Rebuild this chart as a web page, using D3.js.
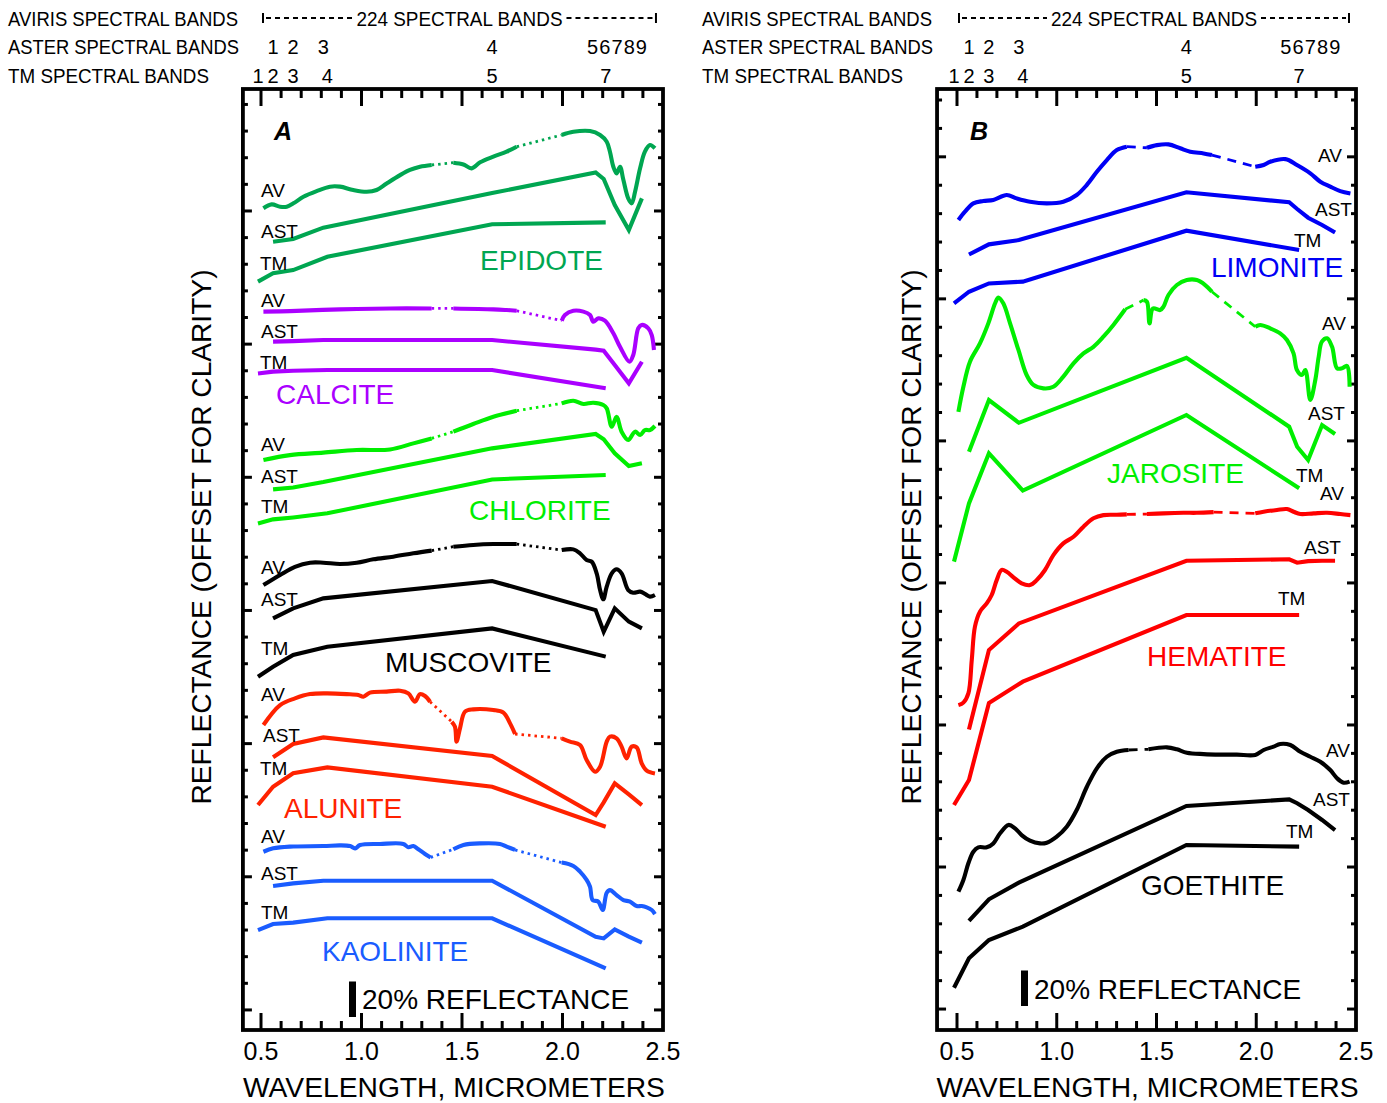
<!DOCTYPE html>
<html><head><meta charset="utf-8">
<script src="https://cdn.jsdelivr.net/npm/d3@7"></script>
<style>
body{margin:0;background:#fff}
svg{display:block}
text{font-family:"Liberation Sans",Arial,Helvetica,sans-serif;fill:#000}
</style>
</head><body>
<svg id="chart" width="1387" height="1103"></svg>
<script>
// ================= DATA =================
const xTickValues = [0.5, 1.0, 1.5, 2.0, 2.5];
const xTickLabels = ["0.5", "1.0", "1.5", "2.0", "2.5"];
const asterBands  = [0.56, 0.66, 0.81, 1.65, 2.165, 2.205, 2.26, 2.33, 2.395];
const asterLabels = ["1", "2", "3", "4", "5", "6", "7", "8", "9"];
const asterLabelGroups = [[0], [1], [2], [3], [4, 5, 6, 7, 8]];
const tmBands  = [0.485, 0.56, 0.66, 0.83, 1.65, 2.215];
const tmLabels = ["1", "2", "3", "4", "5", "7"];
const avirisRange = [0.51, 2.465];
const avirisText = "224 SPECTRAL BANDS";
const rowTitles = ["AVIRIS SPECTRAL BANDS", "ASTER SPECTRAL BANDS", "TM SPECTRAL BANDS"];

// AVIRIS water-band gaps (drawn dotted)
const gapsBoth  = [[1.36, 1.44], [1.79, 1.96]];
const gapsFirst = [[1.36, 1.44]];

// ---- Panel A (offset reflectance, %) ----
const epidoteAV = [[0.512,462.8],[0.553,465.0],[0.595,463.7],[0.628,463.7],[0.661,465.6],[0.711,469.3],[0.777,472.5],[0.843,475.0],[0.893,475.0],[0.959,473.1],[1.026,472.1],[1.075,473.1],[1.125,476.8],[1.192,481.5],[1.241,484.4],[1.291,486.2],[1.349,487.2],[1.457,488.5],[1.507,487.5],[1.548,485.3],[1.590,488.7],[1.656,491.9],[1.722,494.7],[1.772,497.5],[1.996,504.1],[2.054,505.9],[2.137,506.3],[2.187,504.1],[2.220,500.3],[2.236,494.7],[2.253,486.2],[2.269,482.5],[2.286,486.2],[2.303,478.7],[2.327,468.4],[2.344,465.6],[2.361,472.1],[2.386,485.3],[2.410,494.7],[2.435,498.4],[2.460,496.6]];
const epidoteAST = [444.0, 445.5, 451.9, 471.4, 483.0, 479.3, 464.6, 450.6, 468.4];
const epidoteTM  = [421.5, 426.2, 428.0, 435.5, 453.8, 454.9];

const calciteAV = [[0.512,404.6],[0.644,404.9],[0.893,405.9],[1.142,406.4],[1.349,406.4],[1.457,406.4],[1.656,405.9],[1.722,405.5],[1.772,405.1],[1.996,399.5],[2.012,402.7],[2.054,405.1],[2.104,404.6],[2.137,402.7],[2.153,398.9],[2.178,400.8],[2.211,399.5],[2.253,392.4],[2.286,384.8],[2.333,376.4],[2.352,380.2],[2.377,395.2],[2.394,397.1],[2.427,395.2],[2.444,391.4],[2.455,383.0]];
const calciteAST = [387.7, 388.0, 388.6, 388.6, 383.2, 382.6, 374.5, 364.2, 376.4];
const calciteTM  = [369.8, 370.8, 371.3, 371.7, 371.7, 361.4];

const chloriteAV = [[0.512,321.0],[0.644,323.8],[0.810,325.2],[0.976,326.7],[1.142,327.0],[1.258,330.4],[1.349,333.2],[1.457,337.0],[1.556,341.3],[1.656,345.4],[1.772,348.8],[1.996,352.9],[2.054,354.4],[2.104,352.6],[2.153,353.3],[2.203,352.0],[2.220,350.1],[2.245,339.8],[2.269,345.4],[2.294,337.0],[2.327,332.3],[2.361,337.0],[2.386,335.1],[2.410,337.9],[2.435,337.9],[2.460,340.2]];
const chloriteAST = [304.5, 305.6, 308.6, 327.6, 335.7, 332.7, 324.8, 317.6, 319.2];
const chloriteTM  = [285.3, 287.6, 288.7, 291.0, 310.1, 312.6];

const muscoviteAV = [[0.512,250.6],[0.595,256.3],[0.669,260.9],[0.744,263.2],[0.810,263.2],[0.893,262.5],[0.976,263.2],[1.059,265.1],[1.158,266.6],[1.258,268.5],[1.349,270.0],[1.457,272.2],[1.556,273.2],[1.656,273.7],[1.772,273.7],[1.996,270.3],[2.054,270.7],[2.087,268.5],[2.120,264.7],[2.145,263.8],[2.170,257.2],[2.187,247.8],[2.203,242.6],[2.220,249.7],[2.245,257.2],[2.269,259.5],[2.294,257.2],[2.327,247.8],[2.352,246.3],[2.386,246.9],[2.410,245.6],[2.435,244.1],[2.460,245.0]];
const muscoviteAST = [231.8, 237.5, 243.1, 252.9, 236.5, 224.3, 237.5, 230.0, 226.2];
const muscoviteTM  = [199.0, 204.6, 211.2, 215.9, 226.2, 210.3];

const aluniteAV = [[0.512,171.8],[0.595,183.0],[0.669,186.8],[0.744,189.2],[0.827,189.6],[0.926,189.2],[0.984,188.7],[1.009,187.7],[1.042,190.0],[1.125,190.6],[1.192,191.1],[1.233,189.6],[1.266,184.9],[1.291,189.2],[1.316,188.1],[1.341,184.9],[1.449,173.6],[1.465,170.8],[1.473,162.4],[1.490,169.9],[1.515,179.3],[1.556,180.6],[1.656,180.2],[1.706,178.7],[1.739,172.7],[1.764,166.7],[1.996,164.3],[2.037,162.4],[2.087,160.5],[2.120,152.1],[2.162,145.5],[2.187,148.3],[2.220,162.4],[2.236,165.2],[2.269,164.3],[2.294,159.6],[2.319,153.0],[2.344,159.6],[2.369,159.2],[2.394,150.2],[2.419,146.1],[2.460,144.5]];
const aluniteAST = [153.6, 161.1, 164.8, 154.3, 121.1, 128.2, 138.9, 132.7, 126.7];
const aluniteTM  = [126.7, 137.0, 144.6, 147.9, 137.0, 114.5];

const kaoliniteAV = [[0.512,100.4],[0.561,102.3],[0.644,103.3],[0.810,103.6],[0.893,104.0],[0.943,103.6],[0.968,102.3],[0.993,104.2],[1.092,104.8],[1.208,104.8],[1.233,102.9],[1.258,103.6],[1.283,101.8],[1.316,99.1],[1.344,97.2],[1.457,101.8],[1.507,104.2],[1.590,105.1],[1.689,104.8],[1.722,103.3],[1.764,101.4],[1.996,94.3],[2.054,92.4],[2.087,89.2],[2.120,84.5],[2.137,80.7],[2.150,73.2],[2.178,72.3],[2.200,67.6],[2.220,77.3],[2.236,78.8],[2.269,76.0],[2.303,73.2],[2.336,72.3],[2.369,69.8],[2.394,69.8],[2.419,69.1],[2.444,67.6],[2.460,65.3]];
const kaoliniteAST = [81.1, 82.6, 84.1, 84.1, 52.5, 51.6, 56.7, 52.6, 49.2];
const kaoliniteTM  = [56.3, 59.7, 60.5, 62.9, 62.9, 34.7];

// ---- Panel B ----
const limoniteAV = [[0.507,456.2],[0.540,460.9],[0.582,465.6],[0.632,466.9],[0.682,467.5],[0.749,470.3],[0.799,468.4],[0.866,466.5],[0.950,465.6],[1.033,466.5],[1.100,470.3],[1.150,475.9],[1.201,483.4],[1.251,490.0],[1.301,495.6],[1.351,497.5],[1.452,496.9],[1.502,498.4],[1.560,498.8],[1.619,496.6],[1.669,494.7],[1.736,493.7],[1.778,492.8],[1.995,486.2],[2.037,487.2],[2.070,489.0],[2.146,490.5],[2.204,487.2],[2.271,482.5],[2.321,477.8],[2.371,475.0],[2.421,472.5],[2.472,471.2]];
const limoniteAST = [436.8, 442.5, 444.9, 471.8, 466.2, 462.4, 457.5, 453.4, 449.2];
const limoniteTM  = [409.2, 415.8, 420.5, 421.5, 450.2, 439.3];

const jarositeAV = [[0.507,348.2],[0.532,362.3],[0.565,376.4],[0.615,386.7],[0.657,398.0],[0.691,409.3],[0.707,412.6],[0.732,409.3],[0.766,398.0],[0.808,383.0],[0.849,368.9],[0.883,363.3],[0.933,361.4],[0.983,362.3],[1.033,368.0],[1.084,375.5],[1.134,381.1],[1.184,384.8],[1.234,390.5],[1.284,397.1],[1.343,405.9],[1.435,411.1],[1.452,410.2],[1.465,398.0],[1.482,406.4],[1.518,405.5],[1.535,407.4],[1.560,414.0],[1.602,419.6],[1.652,422.4],[1.702,422.4],[1.744,419.6],[1.778,415.8],[1.995,396.1],[2.020,397.1],[2.070,395.2],[2.120,392.4],[2.154,388.6],[2.187,381.1],[2.204,371.7],[2.229,368.9],[2.246,371.7],[2.271,354.8],[2.296,366.1],[2.313,379.2],[2.329,387.7],[2.355,389.6],[2.380,384.8],[2.405,372.7],[2.430,372.7],[2.455,374.0],[2.468,362.3]];
const jarositeAST = [325.7, 354.8, 342.0, 378.6, 339.8, 328.5, 321.0, 340.7, 335.7];
const jarositeTM  = [263.8, 296.6, 324.8, 303.8, 346.4, 305.1];

const hematiteAV = [[0.507,183.0],[0.532,184.4],[0.557,189.6],[0.574,208.4],[0.590,227.2],[0.615,235.6],[0.649,240.3],[0.674,245.0],[0.699,253.4],[0.724,259.1],[0.749,258.1],[0.783,255.0],[0.824,251.6],[0.866,250.6],[0.900,253.4],[0.941,259.1],[0.983,267.5],[1.033,274.1],[1.084,277.8],[1.134,283.5],[1.184,288.2],[1.234,290.0],[1.301,290.2],[1.351,290.4],[1.452,290.6],[1.535,291.0],[1.635,291.3],[1.702,291.3],[1.786,291.7],[1.995,291.0],[2.037,291.9],[2.104,292.9],[2.154,293.4],[2.187,291.9],[2.221,290.6],[2.288,291.0],[2.355,291.3],[2.421,290.6],[2.472,290.0]];
const hematiteAST = [169.3, 214.0, 229.0, 264.3, 265.1, 263.2, 264.1, 264.3, 264.3];
const hematiteTM  = [126.7, 140.8, 184.2, 196.2, 233.7, 233.7];

const goethiteAV = [[0.507,77.9],[0.532,84.5],[0.557,93.9],[0.582,100.4],[0.607,102.9],[0.649,102.9],[0.682,105.1],[0.716,110.8],[0.758,115.5],[0.791,113.6],[0.824,109.8],[0.866,106.6],[0.916,105.1],[0.950,105.5],[1.000,108.9],[1.050,114.5],[1.100,123.9],[1.151,137.0],[1.201,147.4],[1.251,153.9],[1.301,156.7],[1.360,157.7],[1.460,158.1],[1.552,159.2],[1.602,158.1],[1.652,156.2],[1.736,155.4],[1.819,155.1],[1.903,155.1],[1.995,154.9],[2.037,157.7],[2.087,159.6],[2.120,161.1],[2.171,160.5],[2.221,156.7],[2.271,153.9],[2.321,151.1],[2.371,146.4],[2.405,141.8],[2.438,139.3],[2.468,139.9]];
const goethiteAST = [61.4, 73.6, 83.0, 126.2, 129.9, 127.7, 123.9, 118.3, 112.6];
const goethiteTM  = [23.8, 40.4, 50.7, 58.2, 104.2, 103.3];

const scaleBarValue = 20; // % reflectance

// ================= LAYOUT / STYLE =================
const panelsCfg = [
  {
    letter: "A", xRange: [261, 663], xFrameMin: 0.41, titleX: 8,
    yTickStart: 11.3, yTickStep: 15, gapDash: "2.5,4",
    yLabelX: 211,
    scaleBar: {x: 349, yBottom: 1017, textX: 362, textY: 1009},
    letterPos: [274, 140],
    minerals: [
      {name:"EPIDOTE",   color:"#00a651", av:epidoteAV,   ast:epidoteAST,   tm:epidoteTM,   gaps:gapsBoth,
       nameXY:[480,270], avXY:[261,197], astXY:[261,238], tmXY:[260,270]},
      {name:"CALCITE",   color:"#aa00ff", av:calciteAV,   ast:calciteAST,   tm:calciteTM,   gaps:gapsBoth,
       nameXY:[276,404], avXY:[261,307], astXY:[261,338], tmXY:[260,369]},
      {name:"CHLORITE",  color:"#00ee00", av:chloriteAV,  ast:chloriteAST,  tm:chloriteTM,  gaps:gapsBoth,
       nameXY:[469,520], avXY:[261,451], astXY:[261,483], tmXY:[261,513]},
      {name:"MUSCOVITE", color:"#000000", av:muscoviteAV, ast:muscoviteAST, tm:muscoviteTM, gaps:gapsBoth,
       nameXY:[385,672], avXY:[261,574], astXY:[261,606], tmXY:[261,655]},
      {name:"ALUNITE",   color:"#ff2200", av:aluniteAV,   ast:aluniteAST,   tm:aluniteTM,   gaps:gapsBoth,
       nameXY:[284,818], avXY:[261,701], astXY:[263,742], tmXY:[260,775]},
      {name:"KAOLINITE", color:"#1a5cff", av:kaoliniteAV, ast:kaoliniteAST, tm:kaoliniteTM, gaps:gapsBoth,
       nameXY:[322,961], avXY:[261,843], astXY:[261,880], tmXY:[261,919]}
    ]
  },
  {
    letter: "B", xRange: [957, 1356], xFrameMin: 0.40, titleX: 702,
    yTickStart: 11.8, yTickStep: 16, gapDash: "9,7",
    yLabelX: 921,
    scaleBar: {x: 1021, yBottom: 1006, textX: 1034, textY: 999},
    letterPos: [970, 140],
    minerals: [
      {name:"LIMONITE", color:"#0000f5", av:limoniteAV, ast:limoniteAST, tm:limoniteTM, gaps:gapsBoth,
       nameXY:[1211,277], avXY:[1318,162], astXY:[1315,216], tmXY:[1294,247]},
      {name:"JAROSITE", color:"#00ee00", av:jarositeAV, ast:jarositeAST, tm:jarositeTM, gaps:gapsBoth,
       nameXY:[1107,483], avXY:[1322,330], astXY:[1308,420], tmXY:[1296,482]},
      {name:"HEMATITE", color:"#ff0000", av:hematiteAV, ast:hematiteAST, tm:hematiteTM, gaps:gapsBoth,
       nameXY:[1147,666], avXY:[1320,500], astXY:[1304,554], tmXY:[1278,605]},
      {name:"GOETHITE", color:"#000000", av:goethiteAV, ast:goethiteAST, tm:goethiteTM, gaps:gapsFirst,
       nameXY:[1141,895], avXY:[1326,757], astXY:[1313,806], tmXY:[1286,838]}
    ]
  }
];

const frameTop = 89, frameBottom = 1030;
const yDomain = [0, 530];
const lineW = 4.1;

// ================= DRAW =================
const svg = d3.select("#chart");

panelsCfg.forEach(P => {
  const x = d3.scaleLinear().domain([0.5, 2.5]).range(P.xRange);
  const y = d3.scaleLinear().domain(yDomain).range([frameBottom, frameTop]);
  const g = svg.append("g");
  const fx0 = x(P.xFrameMin), fx1 = x(2.5);

  // ---- header rows ----
  const rowY = [26, 54, 83];
  const titleLens = [230, 231, 201];
  rowTitles.forEach((t, i) => {
    g.append("text").attr("x", P.titleX).attr("y", rowY[i])
      .attr("font-size", 20).attr("textLength", titleLens[i]).attr("lengthAdjust", "spacingAndGlyphs")
      .text(t);
  });
  // AVIRIS bracket
  const ay = 18;
  const aMid = (x(avirisRange[0]) + x(avirisRange[1])) / 2;
  g.append("text").attr("x", aMid).attr("y", rowY[0]).attr("text-anchor", "middle")
    .attr("font-size", 20).attr("textLength", 206).attr("lengthAdjust", "spacingAndGlyphs").text(avirisText);
  const half = 103;
  [[x(avirisRange[0]) + 3, aMid - half - 4], [aMid + half + 4, x(avirisRange[1]) - 3]].forEach(s => {
    g.append("line").attr("x1", s[0]).attr("x2", s[1]).attr("y1", ay).attr("y2", ay)
      .attr("stroke", "#000").attr("stroke-width", 2).attr("stroke-dasharray", "5,4");
  });
  avirisRange.forEach(w => {
    g.append("line").attr("x1", x(w)).attr("x2", x(w)).attr("y1", ay - 5).attr("y2", ay + 5)
      .attr("stroke", "#000").attr("stroke-width", 2);
  });
  // ASTER band numbers
  asterLabelGroups.forEach(grp => {
    const wx = d3.mean(grp, i => x(asterBands[i]));
    const t = g.append("text").attr("x", wx).attr("y", rowY[1]).attr("text-anchor", "middle")
      .attr("font-size", 20).text(grp.map(i => asterLabels[i]).join(""));
    if (grp.length > 1) t.attr("textLength", 60).attr("lengthAdjust", "spacing");
  });
  // TM band numbers
  tmBands.forEach((w, i) => {
    g.append("text").attr("x", x(w)).attr("y", rowY[2]).attr("text-anchor", "middle")
      .attr("font-size", 20).text(tmLabels[i]);
  });

  // ---- frame ----
  g.append("rect").attr("x", fx0).attr("y", frameTop).attr("width", fx1 - fx0).attr("height", frameBottom - frameTop)
    .attr("fill", "none").attr("stroke", "#000").attr("stroke-width", 3.8);

  // x ticks (top & bottom, inward)
  const xt = d3.range(5, 25).map(i => ({w: i / 10, major: i % 5 === 0}));
  xt.forEach(t => {
    const len = t.major ? 17 : 9;
    g.append("line").attr("x1", x(t.w)).attr("x2", x(t.w)).attr("y1", frameTop).attr("y2", frameTop + len)
      .attr("stroke", "#000").attr("stroke-width", 3);
    g.append("line").attr("x1", x(t.w)).attr("x2", x(t.w)).attr("y1", frameBottom).attr("y2", frameBottom - len)
      .attr("stroke", "#000").attr("stroke-width", 3);
  });
  xTickValues.forEach((w, i) => {
    g.append("text").attr("x", x(w)).attr("y", 1060).attr("text-anchor", "middle")
      .attr("font-size", 25).text(xTickLabels[i]);
  });
  // y ticks
  const yt = [];
  for (let k = 0; P.yTickStart + k * P.yTickStep < yDomain[1] - 4; k++) {
    yt.push({v: P.yTickStart + k * P.yTickStep, major: k % 5 === 0});
  }
  yt.forEach(t => {
    const len = t.major ? 9 : 5;
    g.append("line").attr("x1", fx0).attr("x2", fx0 + len).attr("y1", y(t.v)).attr("y2", y(t.v))
      .attr("stroke", "#000").attr("stroke-width", 3);
    g.append("line").attr("x1", fx1).attr("x2", fx1 - len).attr("y1", y(t.v)).attr("y2", y(t.v))
      .attr("stroke", "#000").attr("stroke-width", 3);
  });

  // axis titles
  g.append("text").attr("x", (fx0 + fx1) / 2 + 1).attr("y", 1097).attr("text-anchor", "middle")
    .attr("font-size", 27).attr("textLength", 422).attr("lengthAdjust", "spacingAndGlyphs")
    .text("WAVELENGTH, MICROMETERS");
  g.append("text").attr("transform", `translate(${P.yLabelX},537) rotate(-90)`).attr("text-anchor", "middle")
    .attr("font-size", 27).attr("textLength", 535).attr("lengthAdjust", "spacingAndGlyphs")
    .text("REFLECTANCE (OFFSET FOR CLARITY)");

  // panel letter
  g.append("text").attr("x", P.letterPos[0]).attr("y", P.letterPos[1]).attr("font-size", 25)
    .attr("font-weight", "bold").attr("font-style", "italic").text(P.letter);

  // ---- curves ----
  const lineLin = d3.line().x(d => x(d[0])).y(d => y(d[1]));
  const lineSmooth = d3.line().x(d => x(d[0])).y(d => y(d[1])).curve(d3.curveCatmullRom.alpha(0.5));

  P.minerals.forEach(m => {
    // AVIRIS: split into solid runs and dotted gap segments
    const runs = [], gapSegs = [];
    let cur = [m.av[0]];
    for (let i = 1; i < m.av.length; i++) {
      const a = m.av[i - 1], b = m.av[i];
      const mid = (a[0] + b[0]) / 2;
      if (m.gaps.some(gp => mid > gp[0] && mid < gp[1])) {
        gapSegs.push([a, b]);
        if (cur.length > 1) runs.push(cur);
        cur = [b];
      } else cur.push(b);
    }
    if (cur.length > 1) runs.push(cur);
    runs.forEach(r => g.append("path").attr("d", lineSmooth(r)).attr("fill", "none")
      .attr("stroke", m.color).attr("stroke-width", lineW).attr("stroke-linejoin", "round"));
    gapSegs.forEach(s => g.append("path").attr("d", lineLin(s)).attr("fill", "none")
      .attr("stroke", m.color).attr("stroke-width", 2.8).attr("stroke-dasharray", P.gapDash));

    // ASTER & TM polylines
    const astPts = asterBands.map((w, i) => [w, m.ast[i]]);
    const tmPts = tmBands.map((w, i) => [w, m.tm[i]]);
    [astPts, tmPts].forEach(pts => g.append("path").attr("d", lineLin(pts)).attr("fill", "none")
      .attr("stroke", m.color).attr("stroke-width", lineW).attr("stroke-linejoin", "miter"));

    // labels
    g.append("text").attr("x", m.nameXY[0]).attr("y", m.nameXY[1]).attr("font-size", 28)
      .style("fill", m.color).text(m.name);
    [["AV", m.avXY], ["AST", m.astXY], ["TM", m.tmXY]].forEach(([t, p]) => {
      g.append("text").attr("x", p[0]).attr("y", p[1]).attr("font-size", 19).text(t);
    });
  });

  // scale bar
  const sb = P.scaleBar;
  g.append("rect").attr("x", sb.x).attr("width", 7)
    .attr("y", sb.yBottom - (y(0) - y(scaleBarValue))).attr("height", y(0) - y(scaleBarValue)).attr("fill", "#000");
  g.append("text").attr("x", sb.textX).attr("y", sb.textY).attr("font-size", 28)
    .text(scaleBarValue + "% REFLECTANCE");
});
</script>
</body></html>
